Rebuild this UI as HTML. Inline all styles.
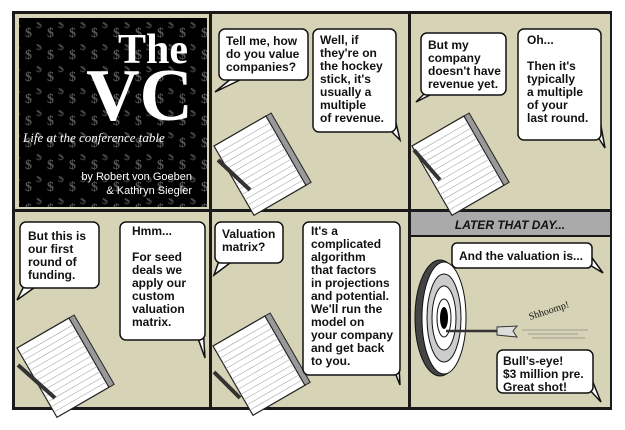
<!DOCTYPE html>
<html><head><style>
body{margin:0;background:#fff;width:625px;height:425px;overflow:hidden}
svg text{font-family:"Liberation Sans",sans-serif;font-weight:bold;font-size:12px;fill:#111}
</style></head><body>
<svg width="625" height="425" viewBox="0 0 625 425" xmlns="http://www.w3.org/2000/svg">
<defs>
<pattern id="d" width="22" height="22" patternUnits="userSpaceOnUse">
<text x="3" y="15" style="font-family:'Liberation Serif',serif;font-size:14px;fill:#555;font-weight:bold">$</text>
<text x="14" y="6" style="font-family:'Liberation Serif',serif;font-size:12px;fill:#4a4a4a;font-weight:bold">$</text>
</pattern>
<g id="pad">
<rect x="0" y="0" width="60" height="80" fill="#fff" stroke="#222" stroke-width="1.2"/>
<rect x="60" y="0" width="6" height="80" fill="#999" stroke="#222" stroke-width="1"/>
<g stroke="#aaa" stroke-width="0.6">
<line x1="0" y1="8" x2="60" y2="8"/><line x1="0" y1="14" x2="60" y2="14"/><line x1="0" y1="20" x2="60" y2="20"/><line x1="0" y1="26" x2="60" y2="26"/><line x1="0" y1="32" x2="60" y2="32"/><line x1="0" y1="38" x2="60" y2="38"/><line x1="0" y1="44" x2="60" y2="44"/><line x1="0" y1="50" x2="60" y2="50"/><line x1="0" y1="56" x2="60" y2="56"/><line x1="0" y1="62" x2="60" y2="62"/><line x1="0" y1="68" x2="60" y2="68"/><line x1="0" y1="74" x2="60" y2="74"/>
</g>
</g>
</defs>
<rect x="12" y="11" width="600" height="399" fill="#1a1a1a"/>
<rect x="15" y="14" width="194" height="195" fill="#d6d3b6"/>
<rect x="212" y="14" width="196" height="195" fill="#d6d3b6"/>
<rect x="411" y="14" width="199" height="195" fill="#d6d3b6"/>
<rect x="15" y="212" width="194" height="195" fill="#d6d3b6"/>
<rect x="212" y="212" width="196" height="195" fill="#d6d3b6"/>
<rect x="411" y="237" width="199" height="170" fill="#d6d3b6"/>
<rect x="411" y="212" width="199" height="23" fill="#aaa"/>
<text x="510" y="229" text-anchor="middle" style="font-style:italic;font-size:12px">LATER THAT DAY...</text>
<rect x="19" y="18" width="188" height="189" fill="#000"/>
<rect x="19" y="18" width="188" height="189" fill="url(#d)"/>
<text x="188" y="63" text-anchor="end" style="font-family:'Liberation Serif',serif;font-size:42px;fill:#fff">The</text>
<text x="193" y="120" text-anchor="end" style="font-family:'Liberation Serif',serif;font-size:74px;fill:#fff">VC</text>
<text x="23" y="142" style="font-family:'Liberation Serif',serif;font-style:italic;font-weight:normal;font-size:13px;fill:#fff">Life at the conference table</text>
<text x="192" y="180" text-anchor="end" style="font-weight:normal;font-size:11px;fill:#fff">by Robert von Goeben</text>
<text x="192" y="194" text-anchor="end" style="font-weight:normal;font-size:11px;fill:#fff">&amp; Kathryn Siegler</text>
<g transform="translate(214,146) rotate(-30)"><use href="#pad"/></g>
<line x1="218" y1="160" x2="250" y2="190" stroke="#333" stroke-width="4"/>
<g transform="translate(412,146) rotate(-30)"><use href="#pad"/></g>
<line x1="414" y1="150" x2="440" y2="180" stroke="#333" stroke-width="4"/>
<g transform="translate(17,348) rotate(-30)"><use href="#pad"/></g>
<line x1="18" y1="365" x2="55" y2="398" stroke="#333" stroke-width="4"/>
<g transform="translate(213,346) rotate(-30)"><use href="#pad"/></g>
<line x1="214" y1="372" x2="240" y2="398" stroke="#333" stroke-width="4"/>
<ellipse cx="440" cy="318" rx="25" ry="58" fill="#444" stroke="#111"/>
<ellipse cx="444" cy="318" rx="22" ry="56" fill="#fff" stroke="#111"/>
<ellipse cx="444" cy="318" rx="17" ry="44" fill="#ccc" stroke="#111"/>
<ellipse cx="444" cy="318" rx="12" ry="32" fill="#fff" stroke="#111"/>
<ellipse cx="444" cy="318" rx="7" ry="19" fill="#fff" stroke="#111"/>
<ellipse cx="444" cy="318" rx="4" ry="11" fill="#000"/>
<line x1="446" y1="331" x2="497" y2="331" stroke="#333" stroke-width="2.5"/>
<polygon points="497,327 517,326 513,331 517,337 497,335" fill="#ddd" stroke="#333"/>
<g stroke="#666" stroke-width="0.6"><line x1="522" y1="330" x2="588" y2="330"/><line x1="528" y1="334" x2="578" y2="334"/><line x1="532" y1="338" x2="585" y2="338"/></g>
<text x="530" y="320" transform="rotate(-18 530 320)" style="font-family:'Liberation Serif',serif;font-weight:normal;font-size:10px">Shhoomp!</text>
<g fill="#fff" stroke="#111" stroke-width="1.5">
<polygon points="232,78 215,92 244,78"/><rect x="219" y="29" width="89" height="51" rx="6"/>
<polygon points="385,125 400,140 393,110"/><rect x="313" y="29" width="83" height="103" rx="6"/>
<polygon points="428,90 416,102 440,90"/><rect x="421" y="33" width="85" height="62" rx="6"/>
<polygon points="592,128 605,148 598,110"/><rect x="518" y="29" width="83" height="111" rx="6"/>
<polygon points="26,282 17,300 38,285"/><rect x="20" y="222" width="79" height="66" rx="6"/>
<polygon points="195,330 205,358 202,310"/><rect x="120" y="222" width="85" height="118" rx="6"/>
<polygon points="220,258 214,275 234,260"/><rect x="215" y="222" width="68" height="41" rx="6"/>
<polygon points="392,365 400,385 398,345"/><rect x="303" y="222" width="97" height="153" rx="6"/>
<polygon points="585,262 603,273 590,255"/><rect x="452" y="243" width="140" height="25" rx="5"/>
<polygon points="585,385 601,402 590,375"/><rect x="497" y="350" width="96" height="43" rx="6"/>
</g>
<text x="226" y="45">Tell me, how</text><text x="226" y="58">do you value</text><text x="226" y="71">companies?</text>
<text x="320" y="44">Well, if</text><text x="320" y="57">they're on</text><text x="320" y="70">the hockey</text><text x="320" y="83">stick, it's</text><text x="320" y="96">usually a</text><text x="320" y="109">multiple</text><text x="320" y="122">of revenue.</text>
<text x="428" y="49">But my</text><text x="428" y="62">company</text><text x="428" y="75">doesn't have</text><text x="428" y="88">revenue yet.</text>
<text x="527" y="44">Oh...</text><text x="527" y="70">Then it's</text><text x="527" y="83">typically</text><text x="527" y="96">a multiple</text><text x="527" y="109">of your</text><text x="527" y="122">last round.</text>
<text x="28" y="240">But this is</text><text x="28" y="253">our first</text><text x="28" y="266">round of</text><text x="28" y="279">funding.</text>
<text x="132" y="235">Hmm...</text><text x="132" y="261">For seed</text><text x="132" y="274">deals we</text><text x="132" y="287">apply our</text><text x="132" y="300">custom</text><text x="132" y="313">valuation</text><text x="132" y="326">matrix.</text>
<text x="222" y="238">Valuation</text><text x="222" y="251">matrix?</text>
<text x="311" y="235">It's a</text><text x="311" y="248">complicated</text><text x="311" y="261">algorithm</text><text x="311" y="274">that factors</text><text x="311" y="287">in projections</text><text x="311" y="300">and potential.</text><text x="311" y="313">We'll run the</text><text x="311" y="326">model on</text><text x="311" y="339">your company</text><text x="311" y="352">and get back</text><text x="311" y="365">to you.</text>
<text x="459" y="260">And the valuation is...</text>
<text x="503" y="365">Bull’s-eye!</text><text x="503" y="378">$3 million pre.</text><text x="503" y="391">Great shot!</text>
</svg>
</body></html>
